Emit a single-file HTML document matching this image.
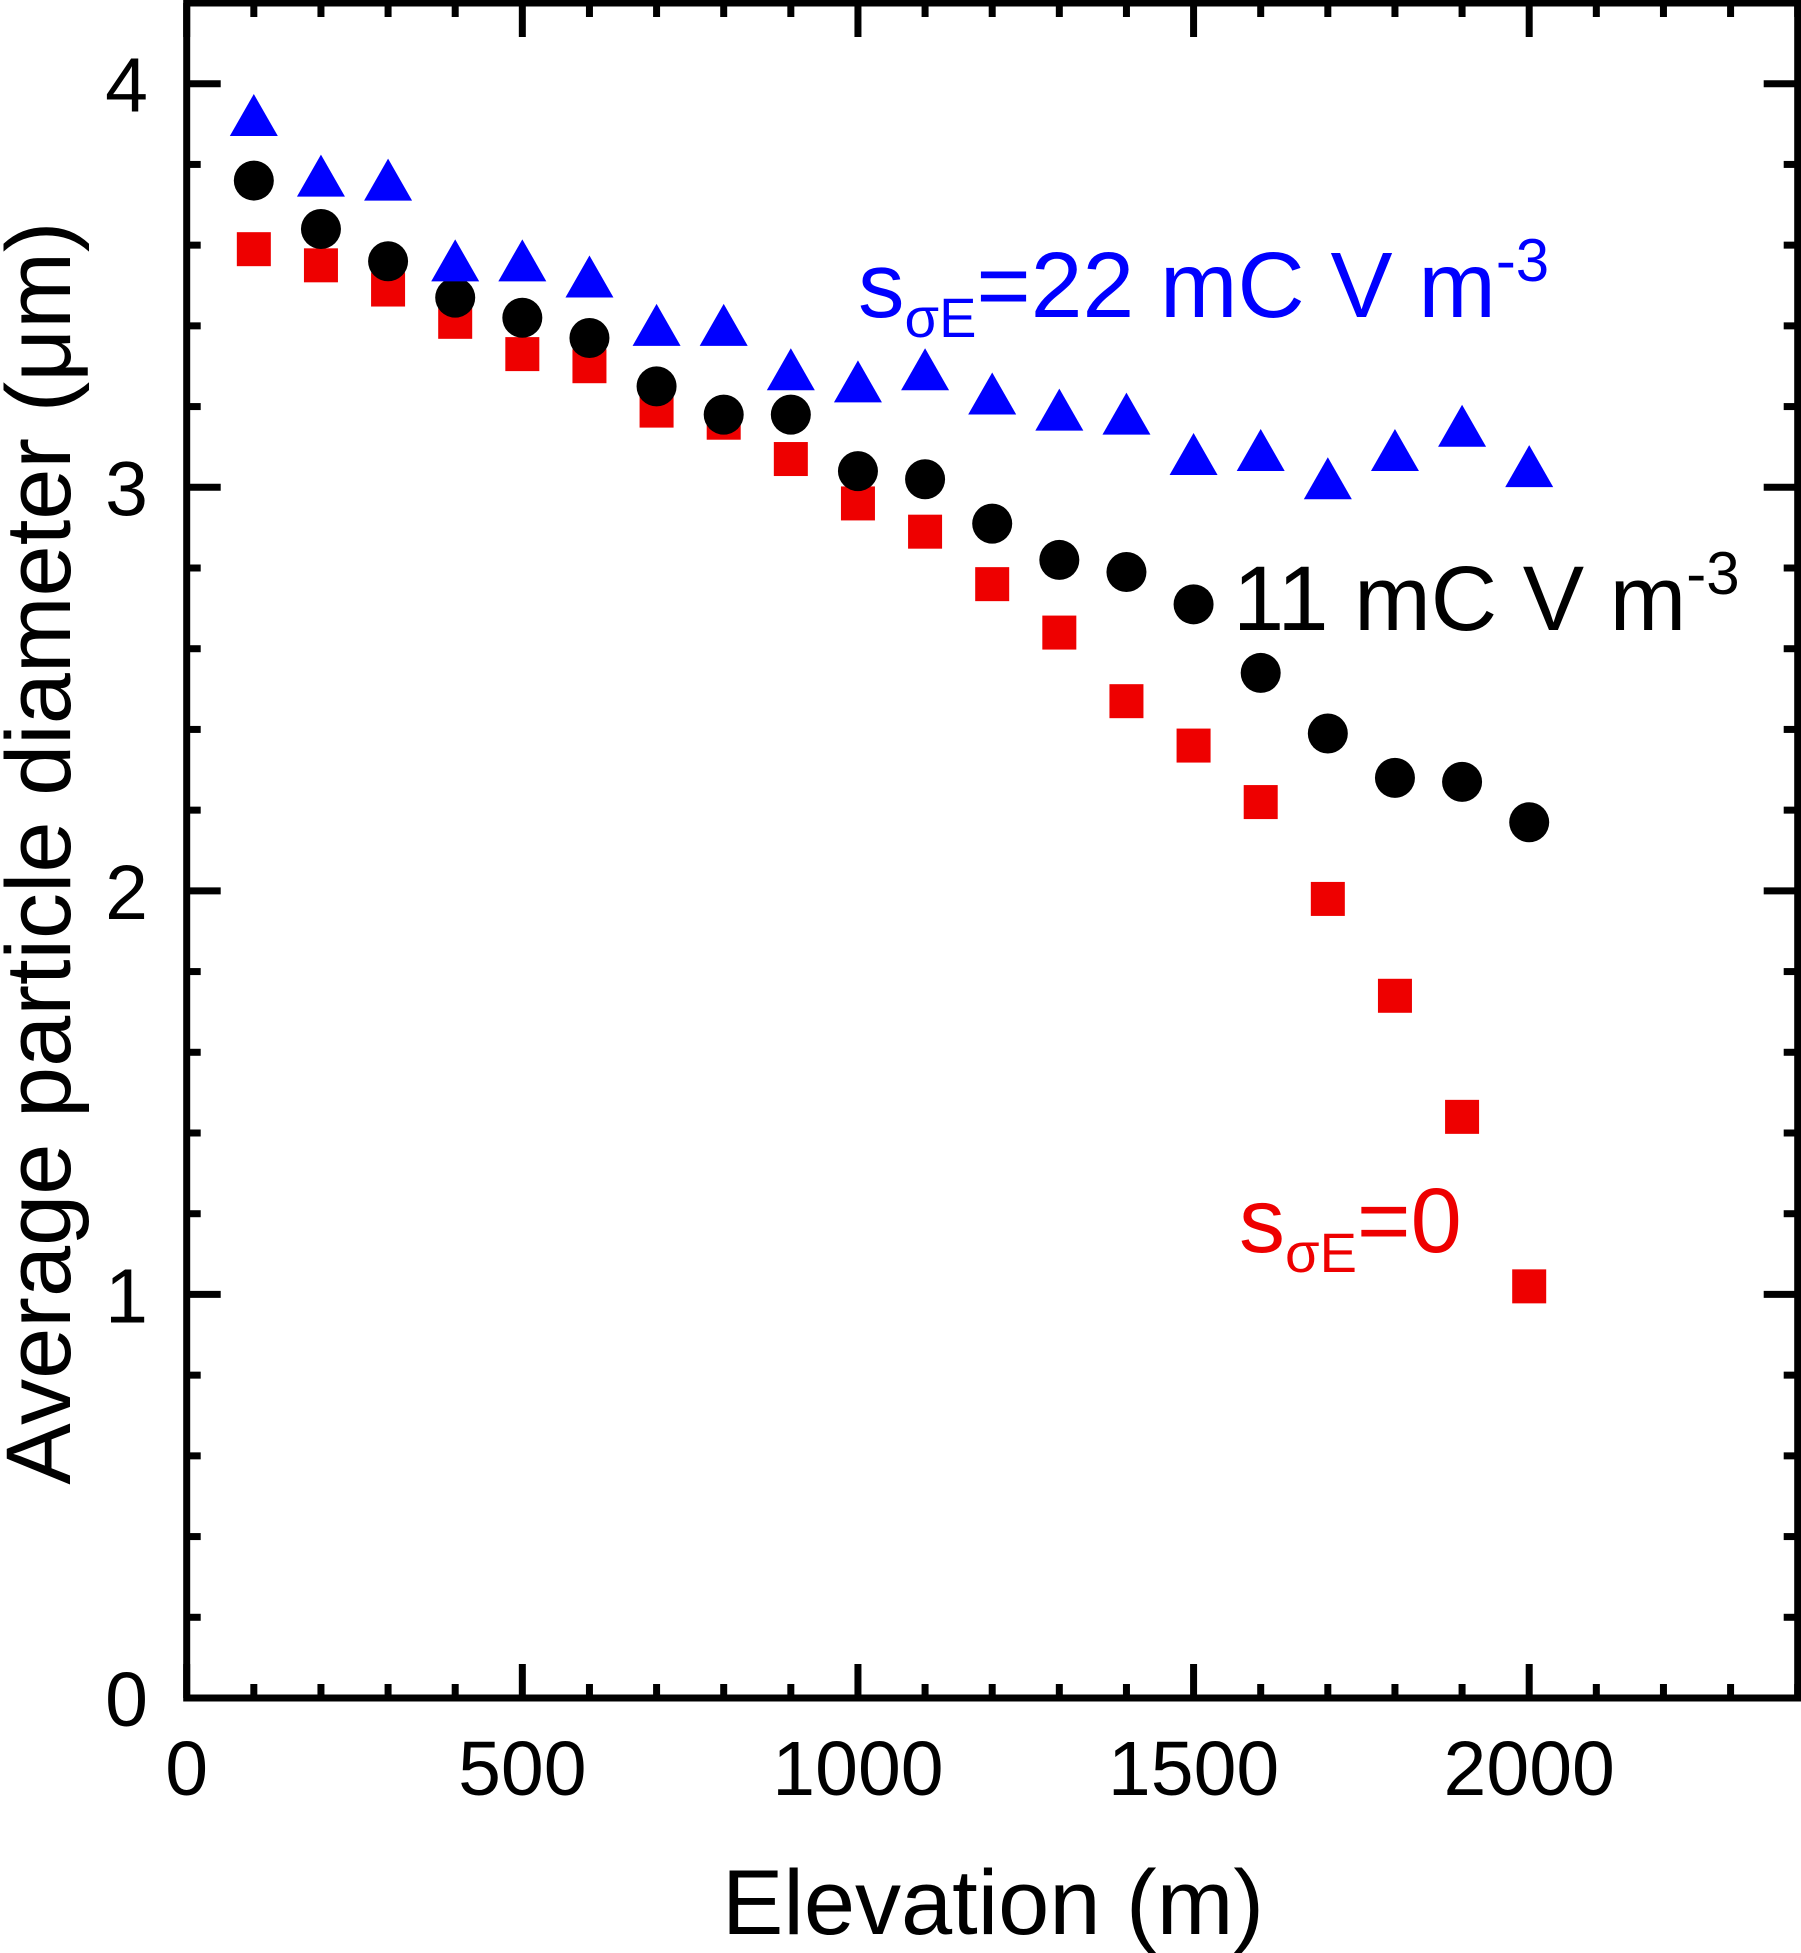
<!DOCTYPE html>
<html><head><meta charset="utf-8"><style>
html,body{margin:0;padding:0;background:#fff}
svg{display:block;font-family:"Liberation Sans",Arial,sans-serif}
</style></head><body>
<svg id="chart" width="1801" height="1953" viewBox="0 0 1801 1953" xmlns="http://www.w3.org/2000/svg">
<g id="axes"></g>
<g id="marks"></g>
<text x="993" y="1934" font-size="92" text-anchor="middle">Elevation (m)</text>
<text transform="translate(70,853) rotate(-90)" font-size="92" text-anchor="middle">Average particle diameter (μm)</text>
<text x="858" y="317" font-size="93" fill="#0000ff">s<tspan font-size="56" dy="20">σE</tspan><tspan dy="-20">=22 mC V m</tspan><tspan font-size="60" dy="-36">-3</tspan></text>
<text x="1233" y="630" font-size="92" fill="#000">11 mC V m<tspan font-size="60" dy="-36">-3</tspan></text>
<text x="1239" y="1252" font-size="92" fill="#ee0000">s<tspan font-size="56" dy="20">σE</tspan><tspan dy="-20">=0</tspan></text>
</svg>
<script>
const elevations=[100,200,300,400,500,600,700,800,900,1000,1100,1200,1300,1400,1500,1600,1700,1800,1900,2000];
const tri22=[3.91,3.76,3.75,3.55,3.55,3.51,3.39,3.39,3.28,3.25,3.28,3.22,3.18,3.17,3.07,3.08,3.01,3.08,3.14,3.04];
const circ11=[3.76,3.64,3.56,3.47,3.42,3.37,3.25,3.18,3.18,3.04,3.02,2.91,2.82,2.79,2.71,2.54,2.39,2.28,2.27,2.17];
const sq0=[3.59,3.55,3.49,3.41,3.33,3.30,3.19,3.16,3.07,2.96,2.89,2.76,2.64,2.47,2.36,2.22,1.98,1.74,1.44,1.02];
const xTicks=[0,500,1000,1500,2000];
const yTicks=[0,1,2,3,4];
const X0=186.7,X1=1797.7,Y0=1698,Y1=3;
const xMax=2400,yMax=4.2;
const sx=v=>X0+(X1-X0)*v/xMax;
const sy=v=>Y0-(Y0-Y1)*v/yMax;
const NS="http://www.w3.org/2000/svg";
const axes=document.getElementById('axes'),marks=document.getElementById('marks');
function mk(tag,attrs,parent){const e=document.createElementNS(NS,tag);for(const k in attrs)e.setAttribute(k,attrs[k]);parent.appendChild(e);return e;}
let frame=mk('rect',{x:X0,y:Y1,width:X1-X0,height:Y0-Y1,fill:'none',stroke:'#000','stroke-width':7},axes);


for(let v=0;v<=xMax;v+=100){
  const major=v%500===0,len=major?34:14,x=sx(v);
  let t=mk('line',{x1:x,x2:x,y1:Y0,y2:Y0-len,stroke:'#000','stroke-width':7},axes);
  
  
  let t2=mk('line',{x1:x,x2:x,y1:Y1,y2:Y1+len,stroke:'#000','stroke-width':7},axes);
  
  
}
for(let i=0;i<=21;i++){
  const v=i*0.2,major=i%5===0,len=major?34:14,y=sy(v);
  let t=mk('line',{x1:X0,x2:X0+len,y1:y,y2:y,stroke:'#000','stroke-width':7},axes);
  
  
  let t2=mk('line',{x1:X1,x2:X1-len,y1:y,y2:y,stroke:'#000','stroke-width':7},axes);
  
  
}
xTicks.forEach(v=>{
  let t=mk('text',{x:sx(v),y:1795,'font-size':77,'text-anchor':'middle'},axes);t.textContent=v;
  
  
});
yTicks.forEach(v=>{
  let t=mk('text',{x:148,y:sy(v)+28,'font-size':77,'text-anchor':'end'},axes);t.textContent=v;
  
  
});
elevations.forEach((e,i)=>{
  const x=sx(e);
  let y=sy(sq0[i]);
  let s=mk('rect',{x:x-17,y:y-17,width:34,height:34,fill:'#ee0000'},marks);
  
  
  y=sy(circ11[i]);
  let c=mk('circle',{cx:x,cy:y,r:20,fill:'#000'},marks);
  
  
  y=sy(tri22[i]);
  let p=mk('polygon',{points:`${x},${y-26} ${x-24},${y+16} ${x+24},${y+16}`,fill:'#0000ff'},marks);
  
  
});
</script>
</body></html>
